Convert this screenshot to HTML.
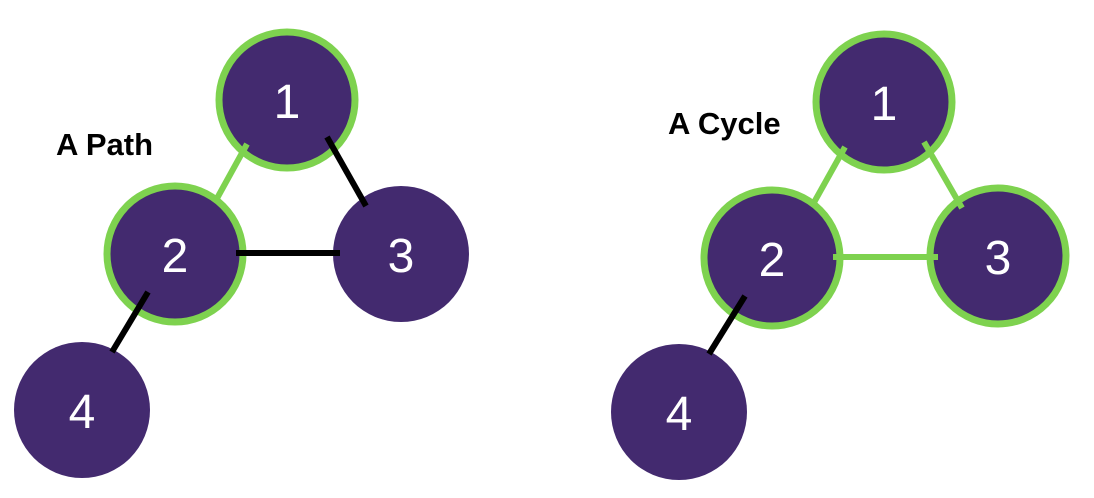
<!DOCTYPE html>
<html><head><style>
html,body{margin:0;padding:0;background:#fff;}
svg{display:block}
</style></head><body>
<svg width="1094" height="498" viewBox="0 0 1094 498" xmlns="http://www.w3.org/2000/svg">
<g font-family="Liberation Sans, sans-serif">
<!-- left graph -->
<circle cx="82" cy="410" r="68" fill="#432a6f"/>
<circle cx="401" cy="254" r="68" fill="#432a6f"/>
<circle cx="287" cy="100" r="68" fill="#432a6f" stroke="#7ed24f" stroke-width="7"/>
<circle cx="175" cy="254" r="68" fill="#432a6f" stroke="#7ed24f" stroke-width="7"/>
<line x1="247" y1="144" x2="215" y2="202" stroke="#7ed24f" stroke-width="6"/>
<line x1="327" y1="137" x2="366" y2="206" stroke="#000" stroke-width="6"/>
<line x1="236" y1="253" x2="340" y2="253" stroke="#000" stroke-width="6"/>
<line x1="148" y1="292" x2="112" y2="352" stroke="#000" stroke-width="6"/>
<g fill="#fff" font-size="48" text-anchor="middle">
<text x="287" y="118">1</text><text x="175" y="272">2</text><text x="401" y="272">3</text><text x="82" y="428">4</text>
</g>
<text x="56" y="155" font-size="31" font-weight="bold" fill="#000">A Path</text>
<!-- right graph -->
<circle cx="679" cy="412" r="68" fill="#432a6f"/>
<circle cx="884" cy="102" r="68" fill="#432a6f" stroke="#7ed24f" stroke-width="7"/>
<circle cx="772" cy="258" r="68" fill="#432a6f" stroke="#7ed24f" stroke-width="7"/>
<circle cx="998" cy="256" r="68" fill="#432a6f" stroke="#7ed24f" stroke-width="7"/>
<line x1="845" y1="147" x2="812" y2="206" stroke="#7ed24f" stroke-width="6"/>
<line x1="924" y1="142" x2="962" y2="208" stroke="#7ed24f" stroke-width="6"/>
<line x1="833" y1="257" x2="938" y2="257" stroke="#7ed24f" stroke-width="6"/>
<line x1="745" y1="296" x2="709" y2="354" stroke="#000" stroke-width="6"/>
<g fill="#fff" font-size="48" text-anchor="middle">
<text x="884" y="120">1</text><text x="772" y="276">2</text><text x="998" y="274">3</text><text x="679" y="430">4</text>
</g>
<text x="668" y="134" font-size="31" font-weight="bold" fill="#000">A Cycle</text>
</g>
</svg>
</body></html>
